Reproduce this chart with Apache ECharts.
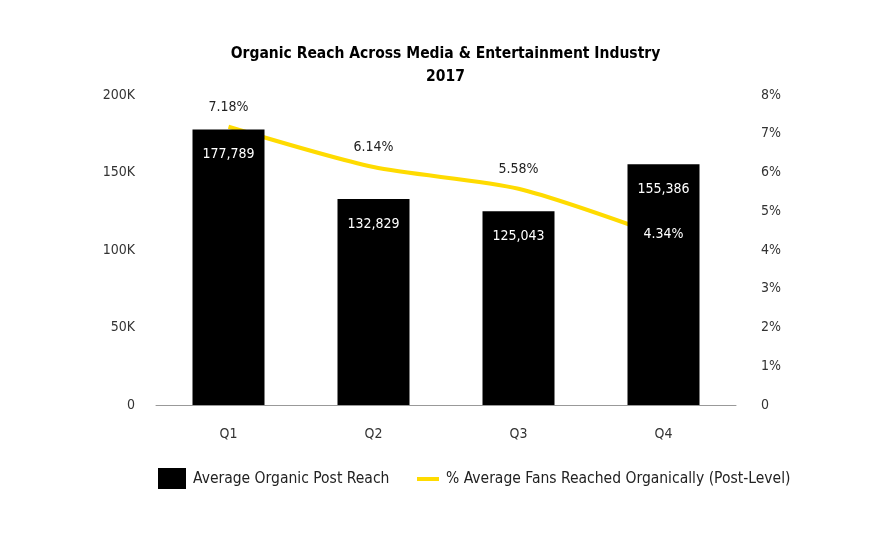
<!DOCTYPE html>
<html><head><meta charset="utf-8">
<script src="https://cdn.jsdelivr.net/npm/echarts@6/dist/echarts.min.js"></script>
<style>html,body{margin:0;padding:0;background:#fff}#c{width:891px;height:542px}</style>
</head><body><div id="c"></div>
<script>
var categories = ['Q1', 'Q2', 'Q3', 'Q4'];
var reachValues = [177789, 132829, 125043, 155386];
var pctValues = [7.18, 6.14, 5.58, 4.34];
var leftTicks = ['0', '50K', '100K', '150K', '200K'];
var rightTicks = ['0', '1%', '2%', '3%', '4%', '5%', '6%', '7%', '8%'];
var barName = 'Average Organic Post Reach';
var lineName = '% Average Fans Reached Organically (Post-Level)';

var FONT = '"DejaVu Sans Condensed", "DejaVu Sans", sans-serif';
var chart = echarts.init(document.getElementById('c'));
var labelData = pctValues.map(function (v, i) {
  var d = { value: v };
  if (i === pctValues.length - 1) {
    d.label = { position: 'inside', color: '#fff', fontSize: 14, offset: [0, -2] };
  }
  return d;
});
chart.setOption({
  animation: false,
  textStyle: { fontFamily: FONT },
  title: {
    text: 'Organic Reach Across Media & Entertainment Industry\n2017',
    left: 'center', top: 37,
    textStyle: { fontFamily: FONT, fontSize: 15.5, fontWeight: 'bold', color: '#000', lineHeight: 23 }
  },
  legend: [{
    data: [barName], left: 158, top: 468, padding: 0, itemWidth: 28, itemHeight: 21,
    icon: 'rect',
    textStyle: { fontFamily: FONT, fontSize: 15.5, color: '#222', padding: [0, 0, 0, 2] }
  }, {
    data: [{ name: lineName, icon: 'rect', itemStyle: { color: '#FFDB00' } }],
    left: 417, top: 471, padding: 0, itemWidth: 22, itemHeight: 4,
    textStyle: { fontFamily: FONT, fontSize: 15.5, color: '#222', padding: [0, 0, 0, 2] }
  }],
  grid: { left: 156, right: 155, top: 95, bottom: 137 },
  xAxis: {
    type: 'category', data: categories,
    axisLine: { lineStyle: { color: '#999' } },
    axisTick: { show: false },
    axisLabel: { color: '#333', fontSize: 14, margin: 22, fontFamily: FONT }
  },
  yAxis: [{
    type: 'value', min: 0, max: 200000, interval: 50000,
    splitLine: { show: false }, axisLine: { show: false }, axisTick: { show: false },
    axisLabel: { color: '#333', fontSize: 14, margin: 21, fontFamily: FONT,
      formatter: function (v) { return leftTicks[Math.round(v / 50000)]; } }
  }, {
    type: 'value', min: 0, max: 8, interval: 1,
    splitLine: { show: false }, axisLine: { show: false }, axisTick: { show: false },
    axisLabel: { color: '#333', fontSize: 14, margin: 25, fontFamily: FONT,
      formatter: function (v) { return rightTicks[Math.round(v)]; } }
  }],
  series: [{
    name: lineName, type: 'line', yAxisIndex: 1, data: pctValues, smooth: 0.25,
    z: 1, showSymbol: false, symbol: 'none',
    lineStyle: { color: '#FFDB00', width: 4 },
    itemStyle: { color: '#FFDB00' }
  }, {
    name: barName, type: 'bar', yAxisIndex: 0, data: reachValues, barWidth: 72, z: 3,
    itemStyle: { color: '#000' },
    label: { show: true, position: 'insideTop', distance: 18, color: '#fff', fontSize: 14, fontFamily: FONT,
      formatter: function (p) { return p.value.toLocaleString('en-US'); } }
  }, {
    name: 'pctLabels', type: 'scatter', yAxisIndex: 1, data: labelData, z: 6,
    symbol: 'rect', symbolSize: 1, silent: true,
    itemStyle: { color: 'rgba(0,0,0,0)', opacity: 1 },
    label: { show: true, position: 'top', distance: 12, color: '#222', fontSize: 14, fontFamily: FONT,
      opacity: 1,
      formatter: function (p) { return p.value.toFixed(2) + '%'; } }
  }]
});
</script></body></html>
